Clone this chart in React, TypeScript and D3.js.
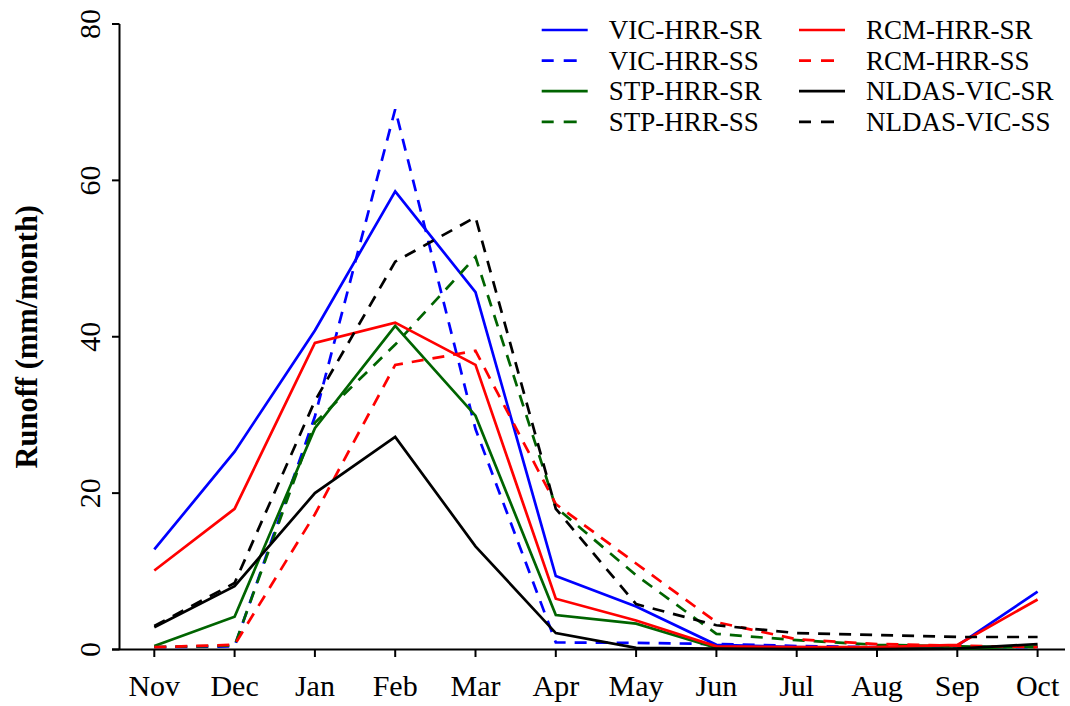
import React, { useEffect, useRef } from 'react';
import * as d3 from 'd3';

const months = ['Nov', 'Dec', 'Jan', 'Feb', 'Mar', 'Apr', 'May', 'Jun', 'Jul', 'Aug', 'Sep', 'Oct'];
const yTicks = [0, 20, 40, 60, 80];

const vicSR = [12.8, 25.3, 40.8, 58.6, 45.7, 9.4, 5.5, 0.6, 0.3, 0.2, 0.5, 7.4];
const vicSS = [0.3, 0.4, 29.8, 69.1, 28.2, 0.9, 0.85, 0.7, 0.45, 0.3, 0.3, 0.3];
const stpSR = [0.45, 4.2, 28.3, 41.4, 29.9, 4.4, 3.3, 0.2, 0.1, 0.1, 0.1, 0.4];
const stpSS = [0.3, 0.5, 29.0, 39.0, 50.2, 18.2, 9.5, 2.0, 1.2, 0.6, 0.4, 0.3];
const rcmSR = [10.1, 18.0, 39.2, 41.8, 36.4, 6.5, 3.7, 0.4, 0.3, 0.3, 0.6, 6.4];
const rcmSS = [0.3, 0.6, 17.3, 36.4, 38.2, 18.6, 11.0, 3.5, 1.3, 0.7, 0.5, 0.3];
const nldasSR = [2.85, 8.1, 20.0, 27.2, 13.2, 2.1, 0.2, 0.1, 0.05, 0.05, 0.1, 0.7];
const nldasSS = [3.0, 8.5, 31.8, 49.6, 55.3, 18.0, 5.8, 3.1, 2.1, 1.85, 1.6, 1.6];

const series = [
  { name: 'VIC-HRR-SR', values: vicSR, color: '#0000ff', dashed: false },
  { name: 'VIC-HRR-SS', values: vicSS, color: '#0000ff', dashed: true },
  { name: 'STP-HRR-SR', values: stpSR, color: '#006400', dashed: false },
  { name: 'STP-HRR-SS', values: stpSS, color: '#006400', dashed: true },
  { name: 'RCM-HRR-SR', values: rcmSR, color: '#ff0000', dashed: false },
  { name: 'RCM-HRR-SS', values: rcmSS, color: '#ff0000', dashed: true },
  { name: 'NLDAS-VIC-SR', values: nldasSR, color: '#000000', dashed: false },
  { name: 'NLDAS-VIC-SS', values: nldasSS, color: '#000000', dashed: true },
];

const App = () => {
  const svgRef = useRef(null);

  useEffect(() => {
    const svg = d3.select(svgRef.current);
    svg.selectAll('*').remove();

    const font = '"Liberation Serif", "Times New Roman", serif';
    const dash = '12,9';

    const xScale = d3.scalePoint().domain(months).range([154.3, 1037.6]);
    const yScale = d3.scaleLinear().domain([0, 80]).range([649.5, 24]);

    // axes
    svg.append('line')
      .attr('x1', 119.5).attr('x2', 119.5)
      .attr('y1', yScale(80)).attr('y2', yScale(0))
      .attr('stroke', 'black').attr('stroke-width', 2);
    svg.append('line')
      .attr('x1', 112).attr('x2', 1065)
      .attr('y1', yScale(0)).attr('y2', yScale(0))
      .attr('stroke', 'black').attr('stroke-width', 2);

    // y ticks + rotated labels
    yTicks.forEach((t) => {
      svg.append('line')
        .attr('x1', 112).attr('x2', 119.5)
        .attr('y1', yScale(t)).attr('y2', yScale(t))
        .attr('stroke', 'black').attr('stroke-width', 2);
      svg.append('text')
        .attr('transform', `translate(100,${yScale(t)}) rotate(-90)`)
        .attr('text-anchor', 'middle')
        .attr('font-family', font)
        .attr('font-size', 30)
        .text(t);
    });

    // x ticks + labels
    months.forEach((m) => {
      svg.append('line')
        .attr('x1', xScale(m)).attr('x2', xScale(m))
        .attr('y1', yScale(0)).attr('y2', yScale(0) + 7.5)
        .attr('stroke', 'black').attr('stroke-width', 2);
      svg.append('text')
        .attr('x', xScale(m)).attr('y', 696)
        .attr('text-anchor', 'middle')
        .attr('font-family', font)
        .attr('font-size', 30)
        .text(m);
    });

    // y axis title
    svg.append('text')
      .attr('transform', `translate(37,${yScale(40)}) rotate(-90)`)
      .attr('text-anchor', 'middle')
      .attr('font-family', font)
      .attr('font-weight', 'bold')
      .attr('font-size', 30.5)
      .text('Runoff (mm/month)');

    const line = d3.line()
      .x((d, i) => xScale(months[i]))
      .y((d) => yScale(d));

    series.forEach((s) => {
      svg.append('path')
        .datum(s.values)
        .attr('fill', 'none')
        .attr('stroke', s.color)
        .attr('stroke-width', 2.7)
        .attr('stroke-dasharray', s.dashed ? dash : null)
        .attr('d', line);
    });

    // legend, two columns of four
    const legend = svg.append('g');
    series.forEach((s, i) => {
      const col = Math.floor(i / 4);
      const row = i % 4;
      const lx = col === 0 ? 541.7 : 799;
      const ly = 30 + row * 30.6;
      legend.append('line')
        .attr('x1', lx).attr('x2', lx + 46)
        .attr('y1', ly).attr('y2', ly)
        .attr('stroke', s.color)
        .attr('stroke-width', 2.7)
        .attr('stroke-dasharray', s.dashed ? '12,10,13,20' : null);
      legend.append('text')
        .attr('x', lx + 67).attr('y', ly + 9)
        .attr('font-family', font)
        .attr('font-size', 27)
        .text(s.name);
    });
  }, []);

  return (
    <svg
      ref={svgRef}
      width={1070}
      height={706}
      style={{ position: 'absolute', left: 0, top: 0, background: 'white' }}
    ></svg>
  );
};

export default App;
